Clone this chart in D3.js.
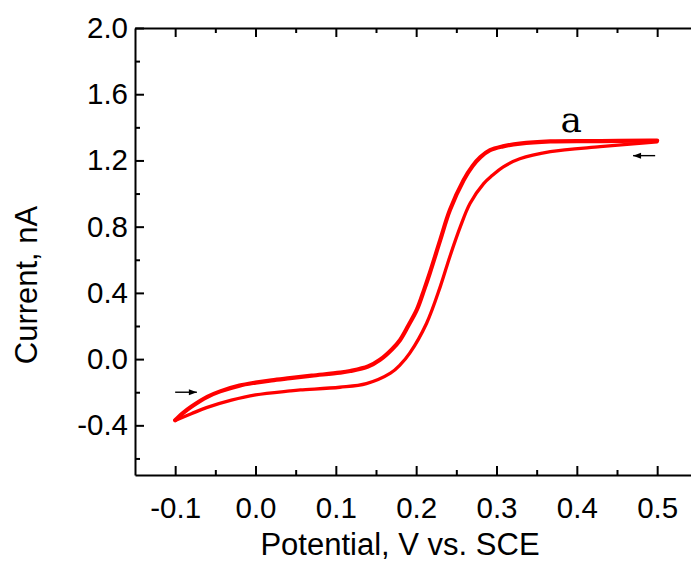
<!DOCTYPE html>
<html>
<head>
<meta charset="utf-8">
<script src="https://cdn.jsdelivr.net/npm/d3@7"></script>
<style>
  body { margin: 0; background: #fff; }
  #chart { width: 691px; height: 563px; overflow: hidden; }
  svg { display: block; }
</style>
</head>
<body>
<div id="chart"></div>
<script>

// forward scan (upper branch), potential in V vs. SCE, current in nA
const fwdPotential = [-0.100, -0.090, -0.080, -0.060, -0.044, -0.020, 0.000, 0.020, 0.043, 0.070,
    0.105, 0.118, 0.140, 0.155, 0.170, 0.180, 0.190, 0.201, 0.210, 0.217, 0.230, 0.242, 0.259,
    0.270, 0.280, 0.292, 0.308, 0.329, 0.367, 0.430, 0.491, 0.500];
const fwdCurrent = [-0.370, -0.325, -0.288, -0.228, -0.195, -0.160, -0.142, -0.128, -0.115, -0.100,
    -0.082, -0.072, -0.045, -0.004, 0.060, 0.116, 0.200, 0.300, 0.420, 0.520, 0.720, 0.900, 1.080,
    1.165, 1.220, 1.262, 1.285, 1.302, 1.315, 1.317, 1.320, 1.320];

// reverse scan (lower branch)
const revPotential = [0.500, 0.470, 0.429, 0.367, 0.329, 0.308, 0.295, 0.284, 0.267, 0.255, 0.242,
    0.230, 0.213, 0.192, 0.180, 0.168, 0.138, 0.105, 0.056, 0.043, 0.000, -0.030, -0.061, -0.080, -0.100];
const revCurrent = [1.313, 1.300, 1.283, 1.253, 1.210, 1.160, 1.110, 1.060, 0.940, 0.800, 0.620,
    0.438, 0.217, 0.036, -0.035, -0.085, -0.148, -0.170, -0.186, -0.192, -0.216, -0.248, -0.293, -0.330, -0.370];

const xMajorTicks = [-0.1, 0.0, 0.1, 0.2, 0.3, 0.4, 0.5];
const xMinorTicks = [-0.05, 0.05, 0.15, 0.25, 0.35, 0.45, 0.55];
const yMajorTicks = [-0.4, 0.0, 0.4, 0.8, 1.2, 1.6, 2.0];
const yMinorTicks = [-0.6, -0.2, 0.2, 0.6, 1.0, 1.4, 1.8];

const xDomain = [-0.15, 0.6];
const yDomain = [-0.7, 2.0];

// scan direction arrows (tail potential, head potential, current)
const arrowTail = [-0.100, 0.4975];
const arrowHead = [-0.073, 0.470];
const arrowCurrent = [-0.200, 1.229];

const curveLabel = "a";
const curveLabelPos = [0.393, 1.372];


class CvPlot {

    constructor(_parentElement) {
        this.parentElement = _parentElement;
        this.initVis();
    }

    initVis() {
        let vis = this;

        vis.margin = {top: 28, left: 135};
        vis.width = 602.5;
        vis.height = 447;

        vis.svg = d3.select(`#${vis.parentElement}`)
            .append("svg")
            .attr("width", 691)
            .attr("height", 563);

        vis.g = vis.svg.append("g")
            .attr("transform", `translate(${vis.margin.left}, ${vis.margin.top})`);

        vis.x = d3.scaleLinear().domain(xDomain).range([0, vis.width]);
        vis.y = d3.scaleLinear().domain(yDomain).range([vis.height, 0]);

        vis.wrangleData();
    }

    wrangleData() {
        let vis = this;

        vis.forward = fwdPotential.map((e, i) => ({e: e, c: fwdCurrent[i]}));
        vis.reverse = revPotential.map((e, i) => ({e: e, c: revCurrent[i]}));
        vis.arrows = arrowTail.map((t, i) => ({from: t, to: arrowHead[i], c: arrowCurrent[i]}));

        vis.updateVis();
    }

    drawAxis(axis, transform, labels) {
        let vis = this;
        let g = vis.g.append("g")
            .attr("transform", transform)
            .call(axis);
        g.selectAll("path, line").attr("stroke", "#000").attr("stroke-width", 2);
        g.attr("font-family", "'Liberation Sans', Arial, sans-serif").attr("font-size", 29.5);
        g.selectAll("text").attr("fill", "#000");
        if (!labels) g.selectAll("text").remove();
        return g;
    }

    updateVis() {
        let vis = this;
        let fmt = d => d.toFixed(1);

        // minor ticks first (no domain line)
        [
            [d3.axisBottom(vis.x).tickValues(xMinorTicks).tickSize(-5), `translate(0,${vis.height})`],
            [d3.axisTop(vis.x).tickValues(xMinorTicks).tickSize(-5), "translate(0,0)"],
            [d3.axisLeft(vis.y).tickValues(yMinorTicks).tickSize(-5), "translate(0,0)"],
            [d3.axisRight(vis.y).tickValues(yMinorTicks).tickSize(-5), `translate(${vis.width},0)`]
        ].forEach(a => {
            vis.drawAxis(a[0].tickSizeOuter(0), a[1], false).select(".domain").remove();
        });

        // major ticks with frame
        vis.drawAxis(d3.axisBottom(vis.x).tickValues(xMajorTicks).tickFormat(fmt)
            .tickSize(-9).tickSizeOuter(0).tickPadding(22), `translate(0,${vis.height})`, true);
        vis.drawAxis(d3.axisTop(vis.x).tickValues(xMajorTicks)
            .tickSize(-9).tickSizeOuter(0), "translate(0,0)", false);
        vis.drawAxis(d3.axisLeft(vis.y).tickValues(yMajorTicks).tickFormat(fmt)
            .tickSize(-9).tickSizeOuter(0).tickPadding(7), "translate(0,0)", true);
        vis.drawAxis(d3.axisRight(vis.y).tickValues(yMajorTicks)
            .tickSize(-9).tickSizeOuter(0), `translate(${vis.width},0)`, false);

        // axis titles
        vis.svg.append("text")
            .attr("x", 400)
            .attr("y", 555)
            .attr("text-anchor", "middle")
            .attr("font-family", "'Liberation Sans', Arial, sans-serif")
            .attr("font-size", 31)
            .text("Potential, V vs. SCE");

        vis.svg.append("text")
            .attr("transform", "translate(37, 285) rotate(-90)")
            .attr("text-anchor", "middle")
            .attr("font-family", "'Liberation Sans', Arial, sans-serif")
            .attr("font-size", 31)
            .text("Current, nA");

        // CV branches
        let line = d3.line()
            .x(d => vis.x(d.e))
            .y(d => vis.y(d.c))
            .curve(d3.curveCatmullRom.alpha(0.5));

        vis.g.append("path")
            .datum(vis.reverse)
            .attr("d", line)
            .attr("fill", "none")
            .attr("stroke", "#ff0000")
            .attr("stroke-width", 3.3)
            .attr("stroke-linejoin", "round")
            .attr("stroke-linecap", "round");

        vis.g.append("path")
            .datum(vis.forward)
            .attr("d", line)
            .attr("fill", "none")
            .attr("stroke", "#ff0000")
            .attr("stroke-width", 4.2)
            .attr("stroke-linejoin", "round")
            .attr("stroke-linecap", "round");

        // scan direction arrows
        let arrow = vis.g.selectAll(".scan-arrow")
            .data(vis.arrows)
            .enter()
            .append("g")
            .attr("class", "scan-arrow");

        arrow.append("line")
            .attr("x1", d => vis.x(d.from))
            .attr("x2", d => vis.x(d.to))
            .attr("y1", d => vis.y(d.c))
            .attr("y2", d => vis.y(d.c))
            .attr("stroke", "#000")
            .attr("stroke-width", 1.4);

        arrow.append("path")
            .attr("d", d => {
                let hx = vis.x(d.to), hy = vis.y(d.c);
                let dir = d.to > d.from ? 1 : -1;
                return `M${hx},${hy} L${hx - dir * 8},${hy - 3} L${hx - dir * 8},${hy + 3} Z`;
            })
            .attr("fill", "#000");

        // curve label
        vis.g.append("text")
            .attr("x", vis.x(curveLabelPos[0]))
            .attr("y", vis.y(curveLabelPos[1]))
            .attr("text-anchor", "middle")
            .attr("font-family", "'DejaVu Serif', serif")
            .attr("font-size", 36)
            .text(curveLabel);
    }
}

new CvPlot("chart");

</script>
</body>
</html>
